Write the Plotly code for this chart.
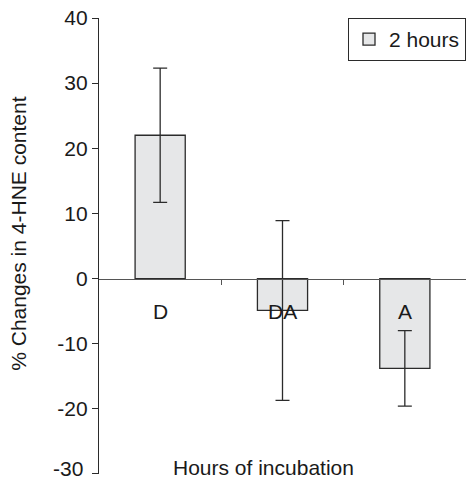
import plotly.graph_objects as go

# Treatment groups and their mean % change with error half-widths
groups = ["D", "DA", "A"]
mean_change = [22.0, -4.9, -13.8]
err_change = [10.3, 13.8, 5.8]
series_name = "2 hours"
y_ticks = [-30, -20, -10, 0, 10, 20, 30, 40]
y_tick_text = ["-30", "-20", "-10", "0", "10", "20", "30", "40"]

FONT = "Liberation Sans, Arial, sans-serif"
INK = "#2b2b2b"
TXT = "#1a1a1a"
FS = 21

x_pos = list(range(len(groups)))

fig = go.Figure()
fig.add_trace(go.Bar(
    x=x_pos,
    y=mean_change,
    name=series_name,
    width=0.41,
    marker=dict(color="#e6e7e8", line=dict(color=INK, width=1.3)),
    error_y=dict(type="data", array=err_change, visible=True,
                 color=INK, thickness=1.3, width=7),
    showlegend=True,
))

# Group labels sit just under the zero line
for xi, g in zip(x_pos, groups):
    fig.add_annotation(x=xi, y=0, text=g, showarrow=False,
                       xref="x", yref="y", yanchor="middle", yshift=-33,
                       font=dict(family=FONT, size=FS, color=TXT))

ymin, ymax = -30, 40
zero_frac = (0 - ymin) / (ymax - ymin)

# The lowest tick label sits on the bottom edge of the figure, where the
# axis would drop it; draw it as an annotation nudged up so it stays visible.
axis_labels = [t if v != ymin else "" for v, t in zip(y_ticks, y_tick_text)]
fig.add_annotation(x=0, y=ymin, xref="paper", yref="y",
                   text=y_tick_text[y_ticks.index(ymin)], showarrow=False,
                   xanchor="right", yanchor="middle", xshift=-14, yshift=5,
                   font=dict(family=FONT, size=FS, color=TXT))

fig.update_layout(
    width=466, height=482,
    margin=dict(l=99, r=0, t=18, b=8),
    plot_bgcolor="white", paper_bgcolor="white",
    font=dict(family=FONT, size=FS, color=TXT),
    xaxis=dict(
        range=[-0.5, 2.5], anchor="free", position=zero_frac,
        showline=True, linecolor="#555555", linewidth=1.3,
        tickvals=[0.5, 1.5], ticks="outside", ticklen=5, tickcolor="#555555",
        showticklabels=False, showgrid=False, zeroline=False,
    ),
    yaxis=dict(
        range=[ymin - 0.01, ymax], tickvals=y_ticks, ticktext=axis_labels,
        showline=True, linecolor=INK, linewidth=1.3,
        ticks="outside", ticklen=6, tickcolor=INK,
        tickfont=dict(family=FONT, size=FS, color=TXT),
        showgrid=False, zeroline=False, automargin=False,
    ),
    legend=dict(
        x=1, y=1, xanchor="right", yanchor="top",
        bordercolor=INK, borderwidth=1, bgcolor="white",
        font=dict(family=FONT, size=FS, color=TXT),
        itemwidth=30,
    ),
    showlegend=True,
)

fig.add_annotation(text="Hours of incubation", xref="paper", yref="paper",
                   x=(263 - 99) / 366, y=(474 - 467) / 456,
                   xanchor="center", yanchor="middle", showarrow=False,
                   font=dict(family=FONT, size=FS, color=TXT))
fig.add_annotation(text="% Changes in 4-HNE content", xref="paper", yref="paper",
                   x=(18.5 - 99) / 366, y=(474 - 233.5) / 456, textangle=-90,
                   xanchor="center", yanchor="middle", showarrow=False,
                   font=dict(family=FONT, size=FS, color=TXT))

fig.write_html("out.html")
